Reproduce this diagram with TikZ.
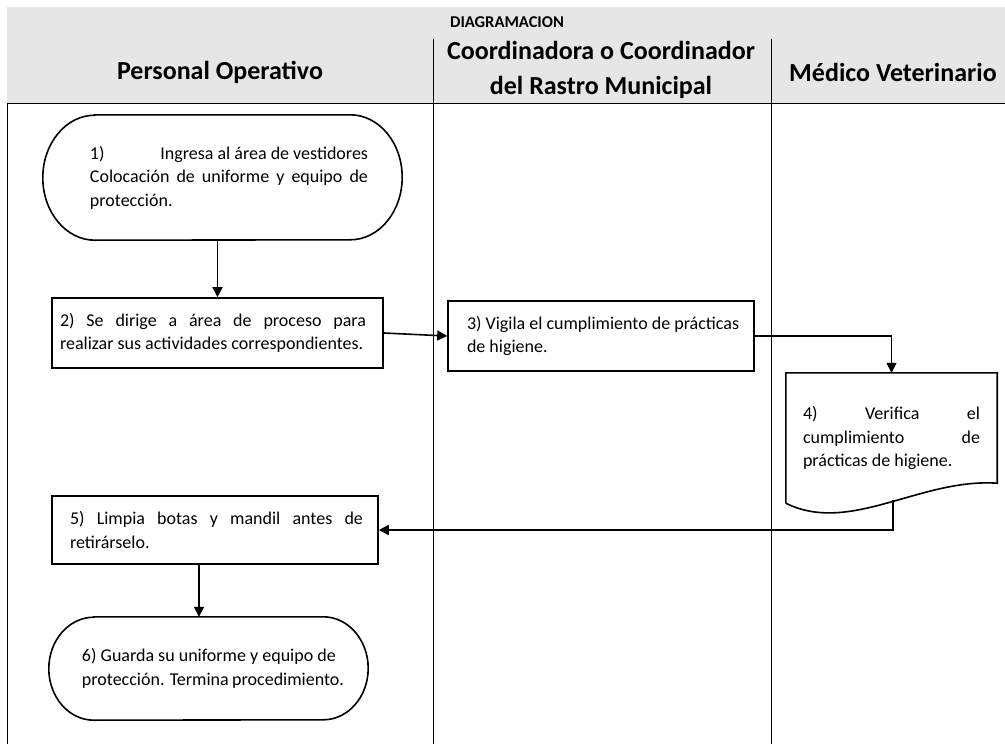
\documentclass[tikz,border=0pt]{standalone}
\usepackage{fontspec}
\setmainfont{Carlito}
\usetikzlibrary{arrows.meta,calc}
\definecolor{hdr}{RGB}{231,230,230}
\newcommand{\jl}[2]{\makebox[#1][s]{#2}}
\newcommand{\tb}[3]{\hspace*{#1}\parbox{#2}{\fontsize{18}{23.5}\selectfont #3}}
\newcommand{\stad}[3]{\draw[shp] ([xshift=#2]#1.north west) -- ([xshift=-#2]#1.north east) arc[start angle=90,end angle=-90,x radius=#2,y radius=#3] -- ([xshift=#2]#1.south west) arc[start angle=270,end angle=90,x radius=#2,y radius=#3] -- cycle;}
\begin{document}
\begin{tikzpicture}[x=1pt,y=-1pt,
  box/.style={draw=none,rectangle,inner sep=0pt},
  shp/.style={line width=1.6pt,draw=black},
  arr/.style={line width=1.6pt,-{Triangle[length=10pt,width=10pt]}},
  hd/.style={font=\fontsize{26}{35}\selectfont\bfseries,align=center,inner sep=0pt},
  lane/.style={line width=0.8pt,draw=black}]
\useasboundingbox (0,0) rectangle (1005,744);
% header
\fill[hdr] (7,7) rectangle (1005,103);
\draw[lane] (7,103) -- (1005,103);
\draw[lane] (7,103) -- (7,744);
\draw[lane] (433,39) -- (433,744);
\draw[lane] (771,39) -- (771,744);
\node[hd] (tDiag) at (507,22) {\fontsize{16.5}{20}\selectfont DIAGRAMACION};
\node[hd] (tP) at (220,72) {Personal Operativo};
\node[hd] (tC) at (601,70) {Coordinadora o Coordinador\\del Rastro Municipal};
\node[hd] (tM) at (893,72) {Médico Veterinario};
% nodes
\node[box,minimum width=359pt,minimum height=125pt] (n1) at (222.5,177.5)
  {\tb{13pt}{278pt}{\jl{278pt}{1)\hspace{0pt plus 1fil} Ingresa al área de vestidores}\\
   \jl{278pt}{Colocación de uniforme y equipo de}\\protección.}};
\stad{n1}{52pt}{62.5pt}
\node[box,draw,line width=1.6pt,minimum width=331pt,minimum height=70pt] (n2) at (217.5,333)
  {\raisebox{2pt}{\tb{-9pt}{306pt}{\jl{306pt}{2) Se dirige a área de proceso para}\\realizar sus actividades correspondientes.}}};
\node[box,draw,line width=1.6pt,minimum width=306pt,minimum height=70pt] (n3) at (601,336)
  {\tb{12pt}{280pt}{3) Vigila el cumplimiento de prácticas\\de higiene.}};
\node[box,minimum width=211pt,minimum height=130pt] (n4) at (891.5,438)
  {\raisebox{-4pt}{\tb{0pt}{177pt}{\jl{177pt}{4) Verifica el}\\\jl{177pt}{cumplimiento de}\\prácticas de higiene.}}};
\draw[shp] (n4.south west) -- (n4.north west) -- (n4.north east) -- ([yshift=20pt]n4.south east)
  .. controls (920,478) and (850,535) .. (n4.south west);
\coordinate (n4b) at (893,500);
\node[box,draw,line width=1.6pt,minimum width=326pt,minimum height=68pt] (n5) at (215,530)
  {\raisebox{3pt}{\tb{3pt}{293pt}{\jl{293pt}{5) Limpia botas y mandil antes de}\\retirárselo.}}};
\node[box,minimum width=319pt,minimum height=103pt] (n6) at (208.5,668.5)
  {\tb{9pt}{262pt}{6) Guarda su uniforme y equipo de\\protección. Termina procedimiento.}};
\stad{n6}{45pt}{51.5pt}
% connectors
\draw[arr] (n2.north |- n1.south) -- (n2.north);
\draw[arr] (n2.east) -- (n3.west);
\draw[arr] (n3.east) -| (n4.north);
\draw[arr] (n4b) |- (n5.east);
\draw[arr] ([xshift=-16pt]n5.south) -- ([xshift=-9.5pt]n6.north);
\end{tikzpicture}
\end{document}
